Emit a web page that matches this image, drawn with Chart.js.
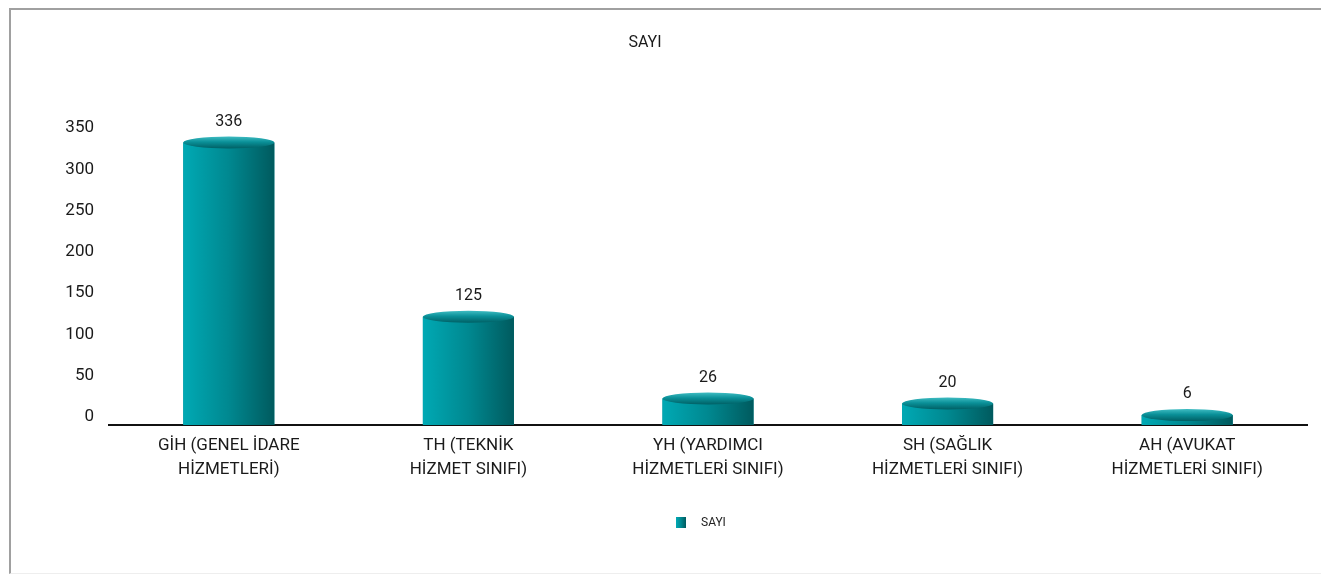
<!DOCTYPE html>
<html>
<head>
<meta charset="utf-8">
<script src="https://cdn.jsdelivr.net/npm/chart.js@4.4.1/dist/chart.umd.min.js"></script>
<style>
  body { margin: 0; background: #fff; }
  #wrap {
    position: absolute; left: 9px; top: 8px;
    width: 1310px; height: 563px;
    border-top: 2px solid #a0a0a0;
    border-left: 2px solid #a0a0a0;
    border-bottom: 1px solid #eeeeee;
  }
</style>
</head>
<body>
<div id="wrap"><canvas id="chart" width="1310" height="563"></canvas></div>
<script>
const categories = [
    ['GİH (GENEL İDARE', 'HİZMETLERİ)'],
    ['TH (TEKNİK', 'HİZMET SINIFI)'],
    ['YH (YARDIMCI', 'HİZMETLERİ SINIFI)'],
    ['SH (SAĞLIK', 'HİZMETLERİ SINIFI)'],
    ['AH (AVUKAT', 'HİZMETLERİ SINIFI)']
];
const sayi = [336, 125, 26, 20, 6];
const seriesName = 'SAYI';
const chartTitle = 'SAYI';
const yTicks = [0, 50, 100, 150, 200, 250, 300, 350];

const FONT = 'Roboto, "Noto Sans", sans-serif';
Chart.defaults.font.family = FONT;
Chart.defaults.color = '#1a1a1a';

function bodyGradient(ctx, left, w) {
    const g = ctx.createLinearGradient(left, 0, left + w, 0);
    g.addColorStop(0, '#00a9b4');
    g.addColorStop(0.5, '#008890');
    g.addColorStop(1, '#005a5e');
    return g;
}

// cylinder look over each bar, value labels, title and legend
const cylinders = {
    id: 'cylinders',
    afterDatasetsDraw(chart) {
        const ctx = chart.ctx;
        const meta = chart.getDatasetMeta(0);
        meta.data.forEach(function(bar, i) {
            const w = bar.width;
            const left = bar.x - w / 2;
            const ry = 6;
            ctx.save();
            ctx.fillStyle = bodyGradient(ctx, left, w);
            ctx.fillRect(left, bar.y, w, bar.base - bar.y);

            const top = ctx.createLinearGradient(0, bar.y - ry, 0, bar.y + ry);
            top.addColorStop(0, '#3fbcc2');
            top.addColorStop(0.45, '#0a9098');
            top.addColorStop(1, '#005f64');
            ctx.fillStyle = top;
            ctx.beginPath();
            ctx.ellipse(bar.x, bar.y, w / 2, ry, 0, 0, Math.PI * 2);
            ctx.fill();

            ctx.fillStyle = '#1a1a1a';
            ctx.font = '16px ' + FONT;
            ctx.textAlign = 'center';
            ctx.textBaseline = 'middle';
            ctx.fillText(String(sayi[i]), bar.x, bar.y - 21);
            ctx.restore();
        });
    },
    afterDraw(chart) {
        const ctx = chart.ctx;
        ctx.save();
        ctx.fillStyle = '#1a1a1a';
        ctx.font = '16px ' + FONT;
        ctx.textAlign = 'center';
        ctx.textBaseline = 'middle';
        ctx.fillText(chartTitle, 634, 33);

        // legend
        ctx.fillStyle = bodyGradient(ctx, 665, 10);
        ctx.fillRect(665, 507, 10, 11);
        ctx.fillStyle = '#222';
        ctx.font = '12px ' + FONT;
        ctx.textAlign = 'left';
        ctx.fillText(seriesName, 690, 512.5);
        ctx.restore();
    }
};

new Chart(document.getElementById('chart'), {
    type: 'bar',
    data: {
        labels: categories,
        datasets: [{
            label: seriesName,
            data: sayi,
            base: -6,
            backgroundColor: '#008890',
            borderWidth: 0,
            barPercentage: 0.38,
            categoryPercentage: 1
        }]
    },
    options: {
        responsive: false,
        animation: false,
        layout: { padding: { left: 0, right: 14, top: 121, bottom: 67 } },
        plugins: {
            title: { display: false },
            legend: { display: false },
            tooltip: { enabled: false }
        },
        scales: {
            x: {
                z: 1,
                grid: { display: false, drawTicks: false },
                border: { display: true, color: '#111', width: 2 },
                ticks: {
                    padding: 9,
                    font: { size: 17, lineHeight: 1.42 },
                    color: '#1a1a1a',
                    maxRotation: 0,
                    autoSkip: false
                },
                afterFit: function(scale) { scale.height = 81; }
            },
            y: {
                min: -6,
                max: 350,
                grid: { display: false, drawTicks: false },
                border: { display: false },
                afterBuildTicks: function(scale) {
                    scale.ticks = yTicks.map(v => ({ value: v }));
                },
                ticks: {
                    padding: 15,
                    labelOffset: -3,
                    font: { size: 17 },
                    color: '#1a1a1a'
                },
                afterFit: function(scale) { scale.width = 98; }
            }
        }
    },
    plugins: [cylinders]
});
</script>
</body>
</html>
